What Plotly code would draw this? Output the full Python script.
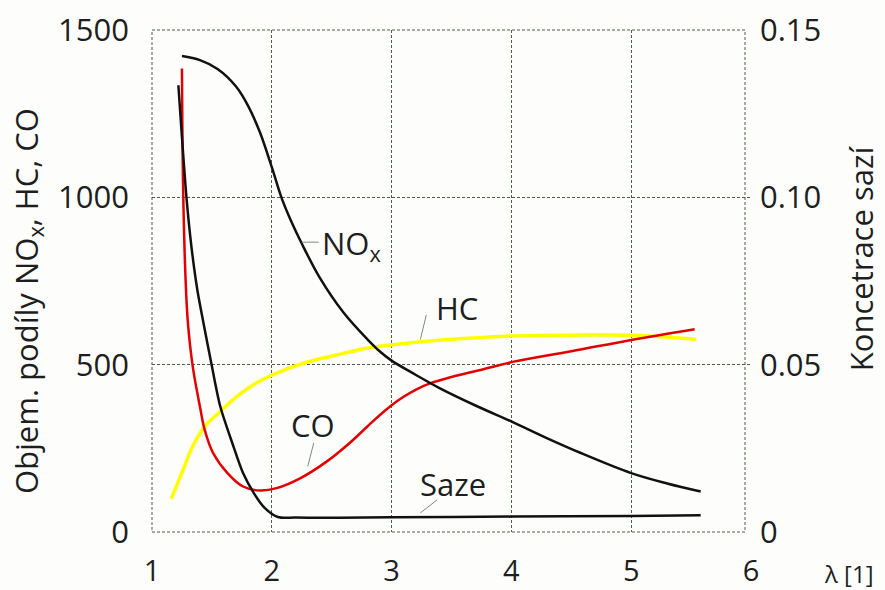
import plotly.graph_objects as go

# ---- data ----
nox_x = [1.25, 1.40, 1.55, 1.70, 1.80, 1.90, 2.00, 2.08, 2.16, 2.25, 2.40, 2.60, 2.80, 2.90, 3.00, 3.20, 3.40, 3.70, 4.02, 4.30, 4.58, 5.00, 5.30, 5.58]
nox_y = [1422, 1410, 1383, 1332, 1275, 1195, 1090, 1000, 930, 862, 760, 655, 575, 540, 512, 470, 430, 378, 327, 280, 236, 176, 145, 121]

saze_x = [1.22, 1.25, 1.29, 1.33, 1.38, 1.43, 1.50, 1.57, 1.67, 1.76, 1.85, 1.94, 2.05, 2.20, 3.00, 4.00, 5.00, 5.58]
saze_y = [0.1335, 0.1180, 0.0990, 0.0850, 0.0720, 0.0624, 0.0495, 0.0375, 0.0266, 0.0176, 0.0116, 0.0072, 0.0045, 0.0043, 0.0044, 0.0046, 0.0048, 0.0050]

co_x = [1.25, 1.26, 1.28, 1.30, 1.34, 1.40, 1.44, 1.51, 1.63, 1.76, 1.90, 2.04, 2.24, 2.46, 2.65, 2.80, 2.90, 3.00, 3.10, 3.20, 3.32, 3.50, 3.75, 4.02, 4.50, 5.00, 5.53]
co_y = [1385, 1022, 758, 624, 495, 375, 305, 236, 176, 136, 124, 131, 161, 211, 266, 316, 349, 379, 404, 425, 444, 463, 485, 509, 540, 574, 606]

hc_x = [1.16, 1.26, 1.34, 1.44, 1.57, 1.71, 1.87, 2.04, 2.27, 2.54, 2.79, 3.07, 3.27, 3.60, 4.02, 4.50, 5.00, 5.54]
hc_y = [99, 186, 256, 315, 360, 405, 445, 475, 505, 529, 549, 562, 569, 578, 586, 588, 588, 576]

x_ticks = [1, 2, 3, 4, 5, 6]
y_ticks = [0, 500, 1000, 1500]
y2_ticks = [0, 0.05, 0.10, 0.15]
y2_labels = ["0", "0.05", "0.10", "0.15"]

FONT = "Open Sans"
TXT = "#1e1e1e"
GRID = "#4c5b4a"
FS = 31

fig = go.Figure()
fig.add_trace(go.Scatter(x=hc_x, y=hc_y, mode="lines", line=dict(color="#ffff00", width=3.5, shape="spline", smoothing=1), name="HC"))
fig.add_trace(go.Scatter(x=co_x, y=co_y, mode="lines", line=dict(color="#e00000", width=2.5, shape="spline", smoothing=1), name="CO"))
fig.add_trace(go.Scatter(x=nox_x, y=nox_y, mode="lines", line=dict(color="#111111", width=2.5, shape="spline", smoothing=1), name="NOx"))
fig.add_trace(go.Scatter(x=saze_x, y=saze_y, mode="lines", yaxis="y2", line=dict(color="#111111", width=2.5, shape="spline", smoothing=0.8), name="Saze"))

# plot frame (dashed, like the grid)
fig.add_shape(type="rect", xref="paper", yref="paper", x0=0, y0=0, x1=0.99, y1=1,
              line=dict(color=GRID, width=1, dash="3px,2px"), layer="below")

# curve labels with leader lines
labels = [
    dict(text="NO<sub>x</sub>", x=2.40, y=858, lx0=2.25, ly0=866, lx1=2.39, ly1=866),
    dict(text="HC", x=3.55, y=670, lx0=3.24, ly0=575, lx1=3.29, ly1=649),
    dict(text="CO", x=2.34, y=321, lx0=2.30, ly0=196, lx1=2.35, ly1=266),
    dict(text="Saze", x=3.51, y=144, lx0=3.24, ly0=57, lx1=3.38, ly1=96),
]
for i, lb in enumerate(labels):
    fig.add_annotation(x=lb["x"], y=lb["y"], text=lb["text"], showarrow=False,
                       xanchor="left" if i == 0 else "center", yanchor="middle",
                       font=dict(family=FONT, size=FS, color=TXT))
    fig.add_shape(type="line", x0=lb["lx0"], y0=lb["ly0"], x1=lb["lx1"], y1=lb["ly1"],
                  line=dict(color="#7d8c7b", width=1))

# axis titles
fig.add_annotation(xref="paper", yref="paper", x=-0.207, y=0.46, text="Objem. podíly NO<sub>x</sub>, HC, CO",
                   textangle=-90, showarrow=False, xanchor="center", yanchor="middle",
                   font=dict(family=FONT, size=FS, color=TXT))
fig.add_annotation(xref="paper", yref="paper", x=1.185, y=0.545, text="Koncetrace sazí",
                   textangle=-90, showarrow=False, xanchor="center", yanchor="middle",
                   font=dict(family=FONT, size=FS, color=TXT))
fig.add_annotation(xref="paper", yref="paper", x=1.164, y=-0.082, text="λ [1]",
                   showarrow=False, xanchor="center", yanchor="middle",
                   font=dict(family=FONT, size=24, color=TXT))

axis_common = dict(showgrid=True, gridcolor=GRID, gridwidth=1, griddash="3px,2px",
                   zeroline=False, showline=False, ticks="", automargin=False)

fig.update_layout(
    width=885, height=590,
    margin=dict(l=152, r=134, t=30, b=58, autoexpand=False),
    plot_bgcolor="#fdfefc", paper_bgcolor="#fdfefc",
    showlegend=False,
    xaxis=dict(range=[1, 6], tickvals=x_ticks, ticklabelstandoff=19,
               tickfont=dict(family=FONT, size=29, color=TXT), **axis_common),
    yaxis=dict(range=[0, 1500], tickvals=y_ticks, ticklabelstandoff=22,
               tickfont=dict(family=FONT, size=FS, color=TXT), **axis_common),
    yaxis2=dict(range=[0, 0.15], tickvals=y2_ticks, ticktext=y2_labels, overlaying="y", side="right",
                ticklabelstandoff=8, showgrid=False, zeroline=False, showline=False, ticks="",
                automargin=False, tickfont=dict(family=FONT, size=FS, color=TXT)),
)

fig.write_html("out.html")
